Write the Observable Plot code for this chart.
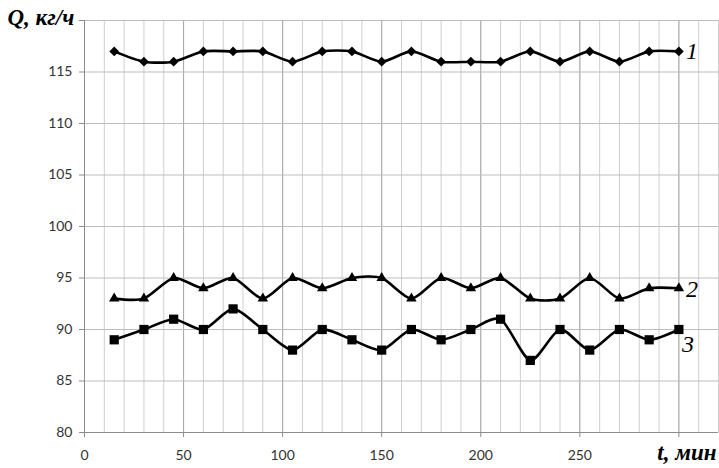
<!DOCTYPE html>
<html>
<head>
<meta charset="utf-8">
<script src="https://cdn.jsdelivr.net/npm/d3@7"></script>
<script src="https://cdn.jsdelivr.net/npm/@observablehq/plot@0.6"></script>
<style>
  html, body { margin: 0; padding: 0; background: #fff; }
  #chart svg { display: block; }
</style>
</head>
<body>
<div id="chart"></div>
<script>
// Sampling times, min
const times = [15, 30, 45, 60, 75, 90, 105, 120, 135, 150, 165, 180, 195, 210, 225, 240, 255, 270, 285, 300];

// Flow rate Q, kg/h, for each of the three curves
const series1 = [117, 116, 116, 117, 117, 117, 116, 117, 117, 116, 117, 116, 116, 116, 117, 116, 117, 116, 117, 117];
const series2 = [93, 93, 95, 94, 95, 93, 95, 94, 95, 95, 93, 95, 94, 95, 93, 93, 95, 93, 94, 94];
const series3 = [89, 90, 91, 90, 92, 90, 88, 90, 89, 88, 90, 89, 90, 91, 87, 90, 88, 90, 89, 90];

const seriesNames = ["1", "2", "3"];

const xTicks = [0, 50, 100, 150, 200, 250, 300];
const yTicks = [80, 85, 90, 95, 100, 105, 110, 115, 120];

const xTitle = "t, мин";
const yTitle = "Q, кг/ч";

const toRows = vals => vals.map((v, j) => ({t: times[j], q: v}));
const rows1 = toRows(series1);
const rows2 = toRows(series2);
const rows3 = toRows(series3);
const last = rows => [rows[rows.length - 1]];

const minorGrid = d3.range(0, 321, 10);
const serif = "'Liberation Serif', 'DejaVu Serif', serif";
const smooth = {stroke: "#000", strokeWidth: 2.6, curve: "cardinal", tension: 0.25};
const labelStyle = {fontFamily: serif, fontStyle: "italic", fontSize: 24, fill: "#000", textAnchor: "start"};

const chart = Plot.plot({
  width: 719,
  height: 468,
  marginLeft: 84,
  marginRight: 1,
  marginTop: 20,
  marginBottom: 36,
  style: {fontFamily: "Lato, 'Open Sans', sans-serif", fontSize: "14px", color: "#333", background: "#fff"},
  x: {domain: [0, 320]},
  y: {domain: [80, 120]},
  marks: [
    // light grid every 10 min, darker at the labelled ticks
    Plot.ruleX(minorGrid, {stroke: "#cfcfcf", strokeWidth: 1}),
    Plot.ruleX(xTicks, {stroke: "#a9a9a9", strokeWidth: 1}),
    Plot.ruleY(yTicks, {stroke: "#bdbdbd", strokeWidth: 1}),
    Plot.ruleY([80], {stroke: "#8c8c8c", strokeWidth: 1, x1: 0, x2: 320}),
    Plot.ruleX([0], {stroke: "#8c8c8c", strokeWidth: 1}),
    Plot.axisX({
      ticks: xTicks, tickSize: 5, tickPadding: 13, stroke: "#8c8c8c",
      tickFormat: d => (d === 300 ? "" : d), label: null, fontSize: 14
    }),
    Plot.axisY({
      ticks: yTicks, tickSize: 5, tickPadding: 7, stroke: "#8c8c8c",
      tickFormat: d => (d === 120 ? "" : d), label: null, fontSize: 14
    }),
    Plot.line(rows1, {x: "t", y: "q", ...smooth}),
    Plot.line(rows2, {x: "t", y: "q", ...smooth}),
    Plot.line(rows3, {x: "t", y: "q", ...smooth}),
    Plot.dot(rows1, {x: "t", y: "q", symbol: "diamond2", r: 4.4, fill: "#000", stroke: "none"}),
    Plot.dot(rows2, {x: "t", y: "q", symbol: "triangle2", r: 5, fill: "#000", stroke: "none"}),
    Plot.dot(rows3, {x: "t", y: "q", symbol: "square", r: 5.2, fill: "#000", stroke: "none"}),
    Plot.text(last(rows1), {x: "t", y: "q", text: () => seriesNames[0], dx: 7, dy: 0, ...labelStyle}),
    Plot.text(last(rows2), {x: "t", y: "q", text: () => seriesNames[1], dx: 7, dy: 1, ...labelStyle}),
    Plot.text(last(rows3), {x: "t", y: "q", text: () => seriesNames[2], dx: 3, dy: 15, ...labelStyle}),
    Plot.text([yTitle], {
      frameAnchor: "top-left", dx: -77, dy: -12, textAnchor: "start",
      fontFamily: serif, fontStyle: "italic", fontWeight: "bold", fontSize: 23, fill: "#000", clip: false
    }),
    Plot.text([xTitle], {
      frameAnchor: "bottom-right", dx: -2, dy: 27, textAnchor: "end",
      fontFamily: serif, fontStyle: "italic", fontWeight: "bold", fontSize: 23, fill: "#000", clip: false
    })
  ]
});

document.getElementById("chart").append(chart);
</script>
</body>
</html>
